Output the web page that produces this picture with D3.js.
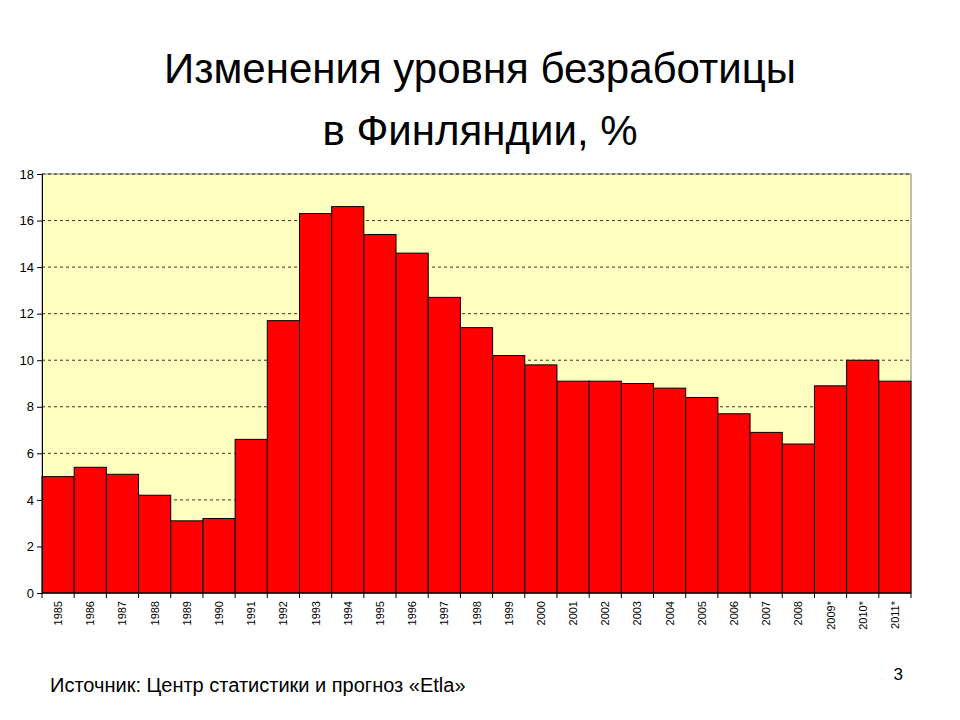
<!DOCTYPE html>
<html><head><meta charset="utf-8">
<script src="https://cdn.jsdelivr.net/npm/d3@7"></script>
<style>body{margin:0;background:#fff}text{font-family:Arial,"Liberation Sans",sans-serif}</style>
</head><body><svg id="c" width="960" height="720"></svg>
<script>
const years = ["1985","1986","1987","1988","1989","1990","1991","1992","1993","1994","1995","1996","1997","1998","1999","2000","2001","2002","2003","2004","2005","2006","2007","2008","2009*","2010*","2011*"];
const rates = [5.0,5.4,5.1,4.2,3.1,3.2,6.6,11.7,16.3,16.6,15.4,14.6,12.7,11.4,10.2,9.8,9.1,9.1,9.0,8.8,8.4,7.7,6.9,6.4,8.9,10.0,9.1];
const yTicks = [0,2,4,6,8,10,12,14,16,18];

const svg = d3.select("#c");
const m = {left: 42, right: 911, top: 174, bottom: 593};

const x = d3.scaleBand().domain(years).range([m.left, m.right]).padding(0);
const y = d3.scaleLinear().domain([0, 18]).range([m.bottom, m.top]);

svg.append("rect").attr("x", m.left).attr("y", m.top)
    .attr("width", m.right - m.left).attr("height", m.bottom - m.top)
    .attr("fill", "#ffffc0").attr("stroke", "#808080");

// dashed grid
svg.append("g").selectAll("line").data(yTicks.filter(d => d > 0)).join("line")
    .attr("x1", m.left).attr("x2", m.right)
    .attr("y1", d => y(d)).attr("y2", d => y(d))
    .attr("stroke", "#000").attr("stroke-dasharray", "3,3").attr("stroke-width", 0.8);

svg.append("g").selectAll("rect").data(years).join("rect")
    .attr("x", (d, i) => x(d)).attr("y", (d, i) => y(rates[i]))
    .attr("width", x.bandwidth()).attr("height", (d, i) => y(0) - y(rates[i]))
    .attr("fill", "#ff0000").attr("stroke", "#000").attr("stroke-width", 1);

const yAxis = svg.append("g").attr("transform", `translate(${m.left},0)`)
    .call(d3.axisLeft(y).tickValues(yTicks).tickSize(5).tickSizeOuter(0));
yAxis.selectAll("text").style("font-size", "13px").attr("fill", "#000");

// x axis: ticks at band boundaries, rotated labels
const xg = svg.append("g");
xg.append("line").attr("x1", m.left).attr("x2", m.right).attr("y1", m.bottom).attr("y2", m.bottom).attr("stroke", "#000");
xg.selectAll("line.t").data(years.concat(["end"])).join("line").attr("class", "t")
    .attr("x1", (d, i) => m.left + i * x.bandwidth()).attr("x2", (d, i) => m.left + i * x.bandwidth())
    .attr("y1", m.bottom).attr("y2", m.bottom + 5).attr("stroke", "#000");
xg.selectAll("text").data(years).join("text")
    .attr("transform", d => `translate(${x(d) + x.bandwidth() / 2 + 4},${m.bottom + 8}) rotate(-90)`)
    .attr("text-anchor", "end").style("font-size", "11px").text(d => d);

svg.append("text").attr("x", 480).attr("y", 83).attr("text-anchor", "middle")
    .style("font-size", "42px").text("Изменения  уровня  безработицы");
svg.append("text").attr("x", 480).attr("y", 145).attr("text-anchor", "middle")
    .style("font-size", "42px").text("в Финляндии,  %");
svg.append("text").attr("x", 50).attr("y", 692).style("font-size", "20px")
    .text("Источник: Центр статистики и прогноз «Etla»");
svg.append("text").attr("x", 903).attr("y", 680).attr("text-anchor", "end")
    .style("font-size", "17px").text("3");
</script></body></html>
